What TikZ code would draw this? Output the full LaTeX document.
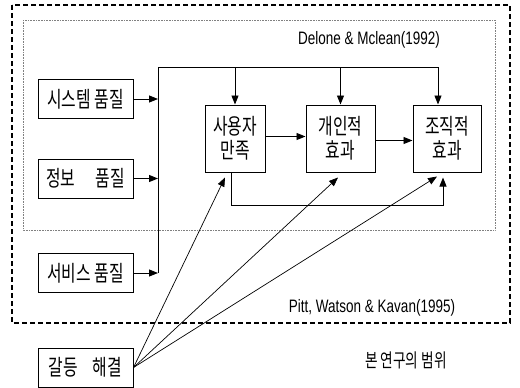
\documentclass[tikz,border=0pt]{standalone}
\usepackage{fontspec}
\newfontfamily\latn[FakeStretch=0.75]{Liberation Sans}
\newfontfamily\kr[FakeStretch=0.72]{Noto Sans CJK KR}
\usetikzlibrary{arrows.meta,calc}
\begin{document}
\begin{tikzpicture}[x=1pt,y=-1pt,
  box/.style={draw,line width=1pt,minimum width=95pt,minimum height=39pt,inner sep=0pt,
    font=\kr\fontsize{22}{24}\selectfont,align=center},
  effbox/.style={draw,line width=1pt,minimum height=67pt,inner sep=0pt,
    font=\kr\fontsize{22}{24}\selectfont,align=center},
  arr/.style={line width=0.9pt,-{Triangle[length=9pt,width=7pt]}},
  thinarr/.style={line width=0.7pt,-{Triangle[length=9pt,width=7pt]}},
  ln/.style={line width=0.9pt},
  lbl/.style={font=\latn\fontsize{18}{20}\selectfont,inner sep=0pt},
  krlbl/.style={font=\kr\fontsize{19}{20}\selectfont,inner sep=0pt}]
\useasboundingbox (0,0) rectangle (520,388);
% scope frames
\draw[line width=1.2pt,dash pattern=on 5pt off 3pt] (12,5) rectangle (510,323);
\draw[line width=0.6pt,gray,densely dotted] (23,20) rectangle (495,230);
% boxes
\node[box] (sys) at (85.5,99) {시스템 품질};
\node[box] (info) at (85.5,178.5) {정보\hspace{20pt}품질};
\node[box] (svc) at (85.5,273) {서비스 품질};
\node[box] (conf) at (85.5,367.5) {갈등\hspace{15pt}해결};
\node[effbox,minimum width=60pt] (user) at (235,138.5) {사용자\\만족};
\node[effbox,minimum width=69pt] (indiv) at (340.5,138.5) {개인적\\효과};
\node[effbox,minimum width=68pt] (org) at (447,138.5) {조직적\\효과};
% labels
\node[lbl] (dm) at (369,40) {Delone \& Mclean(1992)};
\node[lbl] (pwk) at (372,308) {Pitt, Watson \& Kavan(1995)};
\node[krlbl] (scope) at (406,360) {본 연구의 범위};
% bus
\coordinate (bt) at (158,67);
\coordinate (bb) at (158,273);
\coordinate (tr) at (438,67);
\draw[ln] (bb) -- (bt) -- (tr);
\draw[arr] (sys.east) -- (sys.east -| bt);
\draw[arr] (info.east) -- (info.east -| bt);
\draw[arr] (svc.east) -- (svc.east -| bt);
\draw[arr] (user.north |- bt) -- (user.north);
\draw[arr] (indiv.north |- bt) -- (indiv.north);
\draw[arr] (tr) -- (tr |- org.north);
\draw[arr] ([yshift=2pt]user.east) -- ([yshift=2pt]indiv.west);
\draw[arr] ([yshift=-2pt]indiv.east) -- ([yshift=-2pt]org.west);
% feedback
\draw[arr] ([xshift=-4pt]user.south) -- ++(0,33) -| ([xshift=-4pt,yshift=-5pt]org.south);
% conflict resolution
\draw[thinarr] (conf.east) -- ([xshift=-10pt,yshift=-5pt]user.south);
\draw[thinarr] (conf.east) -- ([xshift=-2.5pt,yshift=-5pt]indiv.south);
\draw[thinarr] (conf.east) -- ([xshift=-10pt,yshift=-4pt]org.south);
\end{tikzpicture}
\end{document}
